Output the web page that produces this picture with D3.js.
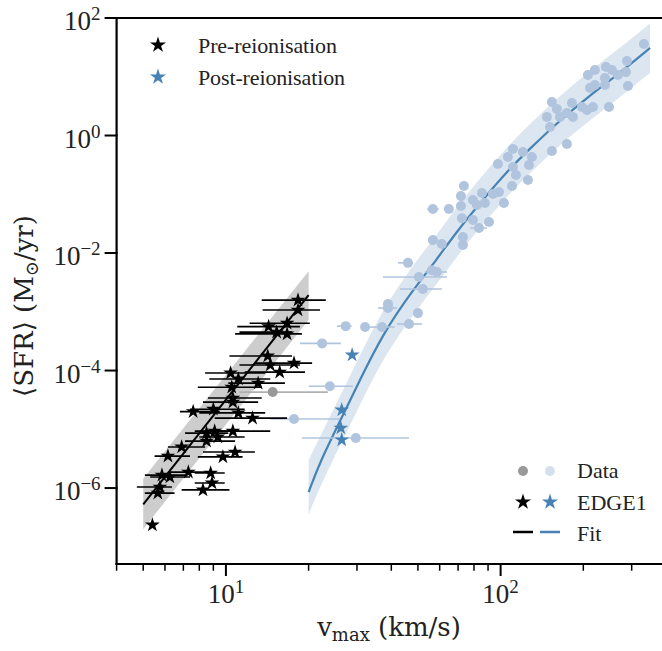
<!DOCTYPE html>
<html lang="en">
<head>
<meta charset="UTF-8">
<title>SFR vs vmax</title>
<script src="https://d3js.org/d3.v7.min.js"></script>
<style>
  body { margin: 0; background: #fff; }
  svg { display: block; }
  text { font-family: "Liberation Serif", "DejaVu Serif", serif; fill: #222; }
  text.title { font-family: "DejaVu Serif", serif; }
</style>
</head>
<body>
<svg width="662" height="651"></svg>
<script>
// EDGE1 pre-reionisation (black stars) with vmax error range
const preV    = [18.3, 18.3, 14.3, 16.7, 15.3, 16.7, 14.2, 17.7, 14.5, 15.7, 10.4, 13.1, 11.1, 10.5, 10.6, 10.6, 7.6, 9.0, 11.1, 12.5, 8.5, 9.1, 10.6, 8.5, 9.35, 6.9, 6.15, 9.75, 10.8, 7.3, 5.85, 6.25, 8.8, 8.9, 5.75, 8.25, 5.65, 5.4];
const preSFR  = [1.58e-3, 1.07e-3, 5.6e-4, 6.4e-4, 4.5e-4, 4.2e-4, 1.77e-4, 1.34e-4, 1.24e-4, 9.4e-5, 9.1e-5, 6.1e-5, 7.2e-5, 5.2e-5, 3.4e-5, 2.9e-5, 2.0e-5, 2.2e-5, 1.9e-5, 1.55e-5, 8.6e-6, 9.3e-6, 9.3e-6, 6.3e-6, 7.4e-6, 5.0e-6, 3.5e-6, 3.4e-6, 4.1e-6, 1.87e-6, 1.66e-6, 1.54e-6, 1.8e-6, 1.22e-6, 1.04e-6, 9.3e-7, 8.2e-7, 2.35e-7];
const preVlo  = [13.5, 13.6, 11.0, 12.2, 11.2, 10.8, 10.3, 12.75, 11.2, 11.7, 8.4, 10.2, 8.7, 7.9, 8.6, 8.25, 6.8, 7.4, 8.0, 9.1, 7.1, 7.7, 8.4, 7.1, 8.0, 6.15, 5.5, 7.9, 8.25, 6.15, 5.07, 5.3, 7.7, 7.7, 4.74, 6.9, 5.07, 5.3];
const preVhi  = [23.1, 22.0, 18.6, 20.2, 17.4, 18.9, 17.4, 20.6, 18.6, 19.4, 13.9, 16.4, 14.5, 13.5, 13.5, 13.1, 9.5, 11.7, 13.9, 16.7, 10.2, 11.2, 14.5, 10.8, 11.7, 8.4, 7.4, 11.5, 12.75, 8.7, 7.1, 7.4, 9.9, 9.9, 6.36, 10.3, 6.5, 5.5];

// EDGE1 post-reionisation (blue stars)
const postV   = [28.8, 26.4, 26.2, 26.4];
const postSFR = [1.84e-4, 2.13e-5, 1.05e-5, 6.6e-6];

// observed data, pre-reionisation fit sample (grey)
const greyV = [14.8], greySFR = [4.3e-5], greyVlo = [11.2], greyVhi = [23.5];

// observed data (light blue); the first entries carry error ranges
const dataV   = [17.7, 22.4, 23.9, 29.7, 27.3, 37.0, 46.4, 38.9, 52.1, 50.4, 58.6, 46.0, 56.7, 83.4,
                 32.1, 50.0, 38.9, 56.2, 56.7, 61.1, 72.9, 72.9, 64.8, 71.7, 73.5, 72.3, 79.3, 82.0, 85.5, 87.7, 79.3, 90.7, 93.8, 98.6, 102.8, 110, 125.7, 97.8, 106.3, 110.9, 110.9, 113.7, 120.6, 130, 126.8, 153.7, 174.3, 147.4, 153.7, 160.3, 164.4, 174.3, 181.8, 183.3, 197.7, 206.2, 151.2, 216.8, 248, 207.9, 220.4, 211.4, 220.4, 239.8, 241.7, 254.2, 267.3, 285.9, 290.7, 288.3, 332.4, 239.8, 71.7];
const dataSFR = [1.5e-5, 2.9e-4, 5.4e-5, 7.1e-6, 5.7e-4, 5.5e-4, 6.2e-4, 1.16e-3, 2.44e-3, 3.9e-3, 4.75e-3, 6.8e-3, 5.6e-2, 2.66e-2,
                 5.5e-4, 9.5e-4, 1.36e-3, 5.1e-3, 1.66e-2, 1.42e-2, 1.87e-2, 1.37e-2, 5.6e-2, 9.3e-2, 0.138, 3.9e-2, 8.0e-2, 6.6e-2, 0.105, 7.1e-2, 3.65e-2, 3.37e-2, 0.101, 0.109, 7.1e-2, 0.138, 0.175, 0.327, 0.431, 0.589, 0.291, 0.213, 0.524, 0.431, 0.315, 0.545, 0.717, 2.07, 3.72, 2.83, 2.07, 2.42, 3.57, 2.07, 3.06, 2.72, 1.40, 3.06, 3.06, 10.7, 13.0, 6.43, 7.24, 7.24, 14.7, 13.0, 10.7, 12.0, 6.96, 18.5, 36.1, 9.52, 6.3e-2];
const dataVlo = [14.5, 18.6, 20.0, 18.9, 25.4, 32.6, 41.9, 35.8, 43.0, 37.3, 53.0, 42.3, 54.0, 77.3];
const dataVhi = [26.0, 26.2, 29.0, 46.4, 28.7, 41.2, 51.7, 41.9, 61.1, 63.8, 63.8, 47.9, 59.5, 89.2];

// fits: pre-reionisation straight line, post-reionisation curve, with scatter bands
const preFitV    = [5, 20];
const preFitSFR  = [5.3e-7, 1.93e-3];
const preBandLo  = [2.0e-7, 7.3e-4];
const preBandHi  = [1.45e-6, 4.9e-3];
const postFitV   = [20, 22, 26.4, 30.7, 37.3, 47.9, 58.6, 69.3, 86.2, 108, 128, 160, 206, 272, 350];
const postFitSFR = [8.5e-7, 2.8e-6, 1.58e-5, 6.8e-5, 4.27e-4, 2.34e-3, 7.8e-3, 2.34e-2, 8.1e-2, 0.275, 0.60, 1.62, 4.37, 11.7, 30.9];
const postBandHi = [3.0e-6, 7.4e-6, 4.17e-5, 1.78e-4, 1.12e-3, 6.2e-3, 2.04e-2, 6.2e-2, 0.214, 0.72, 1.58, 4.27, 11.5, 30.9, 81];
const postBandLo = [3.5e-7, 1.07e-6, 6.0e-6, 2.57e-5, 1.62e-4, 8.9e-4, 2.95e-3, 8.9e-3, 3.09e-2, 0.105, 0.229, 0.62, 1.66, 4.47, 11.7];

const xMajor = [10, 100];
const xMinor = [4, 5, 6, 7, 8, 9, 20, 30, 40, 50, 60, 70, 80, 90, 200, 300, 400];
const yMajor = [1e2, 1e0, 1e-2, 1e-4, 1e-6];

const width = 662, height = 651;
const svg = d3.select("svg").attr("width", width).attr("height", height);

const x = d3.scaleLog().domain([4, 400]).range([116.6, 666]);
const y = d3.scaleLog().domain([5.1e-8, 100]).range([564, 18]);
const x0 = x.range()[0], yb = y.range()[0], yt = y.range()[1];

const blue = "#4682b4", light = "#b0c4de";

svg.append("defs").append("clipPath").attr("id", "plot")
  .append("rect").attr("x", x0).attr("y", yt).attr("width", width - x0).attr("height", yb - yt);

const plot = svg.append("g").attr("clip-path", "url(#plot)");

// bands
const band = d3.area().x(d => x(d[0])).y0(d => y(d[1])).y1(d => y(d[2]));
plot.append("path")
  .attr("d", band.curve(d3.curveLinear)(preFitV.map((v, i) => [v, preBandLo[i], preBandHi[i]])))
  .attr("fill", "#cdcdcd");
plot.append("path")
  .attr("d", band.curve(d3.curveBasis)(postFitV.map((v, i) => [v, postBandLo[i], postBandHi[i]])))
  .attr("fill", "#dce6f0");

// fit lines
const line = d3.line().x(d => x(d[0])).y(d => y(d[1]));
plot.append("path")
  .attr("d", line.curve(d3.curveLinear)(preFitV.map((v, i) => [v, preFitSFR[i]])))
  .attr("fill", "none").attr("stroke", "#000").attr("stroke-width", 2);
plot.append("path")
  .attr("d", line.curve(d3.curveBasis)(postFitV.map((v, i) => [v, postFitSFR[i]])))
  .attr("fill", "none").attr("stroke", blue).attr("stroke-width", 2.2);

// light blue data with error bars
plot.selectAll(".derr").data(dataVlo).enter().append("line")
  .attr("x1", (d, i) => x(d)).attr("x2", (d, i) => x(dataVhi[i]))
  .attr("y1", (d, i) => y(dataSFR[i])).attr("y2", (d, i) => y(dataSFR[i]))
  .attr("stroke", light).attr("stroke-width", 1.6);
plot.selectAll(".dpt").data(dataV).enter().append("circle")
  .attr("cx", d => x(d)).attr("cy", (d, i) => y(dataSFR[i]))
  .attr("r", 5).attr("fill", light);

// grey data
plot.selectAll(".gerr").data(greyV).enter().append("line")
  .attr("x1", (d, i) => x(greyVlo[i])).attr("x2", (d, i) => x(greyVhi[i]))
  .attr("y1", (d, i) => y(greySFR[i])).attr("y2", (d, i) => y(greySFR[i]))
  .attr("stroke", "#b0b0b0").attr("stroke-width", 1.6);
plot.selectAll(".gpt").data(greyV).enter().append("circle")
  .attr("cx", d => x(d)).attr("cy", (d, i) => y(greySFR[i]))
  .attr("r", 5).attr("fill", "#999");

// EDGE1 stars
const star = d3.symbol().type(d3.symbolStar).size(68);
plot.selectAll(".perr").data(preV).enter().append("line")
  .attr("x1", (d, i) => x(preVlo[i])).attr("x2", (d, i) => x(preVhi[i]))
  .attr("y1", (d, i) => y(preSFR[i])).attr("y2", (d, i) => y(preSFR[i]))
  .attr("stroke", "#000").attr("stroke-width", 1.6);
plot.selectAll(".pstar").data(preV).enter().append("path")
  .attr("d", star)
  .attr("transform", (d, i) => `translate(${x(d)},${y(preSFR[i])})`)
  .attr("fill", "#000");
plot.selectAll(".qstar").data(postV).enter().append("path")
  .attr("d", star)
  .attr("transform", (d, i) => `translate(${x(d)},${y(postSFR[i])})`)
  .attr("fill", blue);

// spines
const axes = svg.append("g").attr("stroke", "#000").attr("stroke-linecap", "square");
axes.append("line").attr("x1", x0).attr("x2", x0).attr("y1", yt).attr("y2", yb).attr("stroke-width", 2.2);
axes.append("line").attr("x1", x0).attr("x2", width).attr("y1", yb).attr("y2", yb).attr("stroke-width", 2.2);
axes.append("line").attr("x1", x0).attr("x2", width).attr("y1", yt).attr("y2", yt).attr("stroke-width", 2.2);

// ticks
axes.selectAll(".xmin").data(xMinor).enter().append("line")
  .attr("x1", d => x(d)).attr("x2", d => x(d)).attr("y1", yb).attr("y2", yb + 6).attr("stroke-width", 1.5);
axes.selectAll(".xmaj").data(xMajor).enter().append("line")
  .attr("x1", d => x(d)).attr("x2", d => x(d)).attr("y1", yb).attr("y2", yb + 11).attr("stroke-width", 2);
axes.selectAll(".ymaj").data(yMajor).enter().append("line")
  .attr("x1", x0 - 11).attr("x2", x0).attr("y1", d => y(d)).attr("y2", d => y(d)).attr("stroke-width", 2);

function power(sel, d) {
  const e = Math.round(Math.log10(d));
  sel.append("tspan").attr("font-size", 27).text("10");
  sel.append("tspan").attr("font-size", 19).attr("dy", -10).text(e < 0 ? "\u2212" + (-e) : e);
}
svg.selectAll(".xlab").data(xMajor).enter().append("text")
  .attr("x", d => x(d)).attr("y", yb + 39).attr("text-anchor", "middle")
  .each(function (d) { power(d3.select(this), d); });
svg.selectAll(".ylab").data(yMajor).enter().append("text")
  .attr("x", x0 - 16).attr("y", d => y(d) + 12).attr("text-anchor", "end")
  .each(function (d) { power(d3.select(this), d); });

// axis titles
const xt = svg.append("text").attr("class", "title").attr("x", 389).attr("y", 636)
  .attr("text-anchor", "middle").attr("font-size", 26);
xt.append("tspan").text("v");
xt.append("tspan").attr("font-size", 18).attr("dy", 5).text("max");
xt.append("tspan").attr("dy", -5).text(" (km/s)");

const yt2 = svg.append("text").attr("class", "title").attr("transform", "translate(33,306) rotate(-90)")
  .attr("text-anchor", "middle").attr("font-size", 26);
yt2.append("tspan").text("\u27E8SFR\u27E9 (M");
yt2.append("tspan").attr("font-size", 18).attr("dy", 5).text("\u2299");
yt2.append("tspan").attr("dy", -5).text("/yr)");

// legend: top left
const bigStar = d3.symbol().type(d3.symbolStar).size(80);
const legTop = [["Pre-reionisation", "#000", 45, 53, 139], ["Post-reionisation", blue, 77, 85, 147]];
legTop.forEach(([label, col, sy, ty, tl]) => {
  svg.append("path").attr("d", bigStar).attr("transform", `translate(158,${sy})`).attr("fill", col);
  svg.append("text").attr("x", 198).attr("y", ty).attr("font-size", 22)
    .attr("textLength", tl).attr("lengthAdjust", "spacing").text(label);
});

// legend: bottom right
svg.append("circle").attr("cx", 523).attr("cy", 471).attr("r", 5).attr("fill", "#999");
svg.append("circle").attr("cx", 550).attr("cy", 471).attr("r", 5).attr("fill", "#d5e0ec");
svg.append("text").attr("x", 577).attr("y", 478).attr("font-size", 22).text("Data");
svg.append("path").attr("d", bigStar).attr("transform", "translate(523,502)").attr("fill", "#000");
svg.append("path").attr("d", bigStar).attr("transform", "translate(550,502)").attr("fill", blue);
svg.append("text").attr("x", 577).attr("y", 510).attr("font-size", 22).text("EDGE1");
svg.append("line").attr("x1", 513).attr("x2", 533).attr("y1", 532).attr("y2", 532).attr("stroke", "#000").attr("stroke-width", 2.5);
svg.append("line").attr("x1", 540).attr("x2", 560).attr("y1", 532).attr("y2", 532).attr("stroke", blue).attr("stroke-width", 2.5);
svg.append("text").attr("x", 577).attr("y", 541).attr("font-size", 22).text("Fit");
</script>
</body>
</html>
